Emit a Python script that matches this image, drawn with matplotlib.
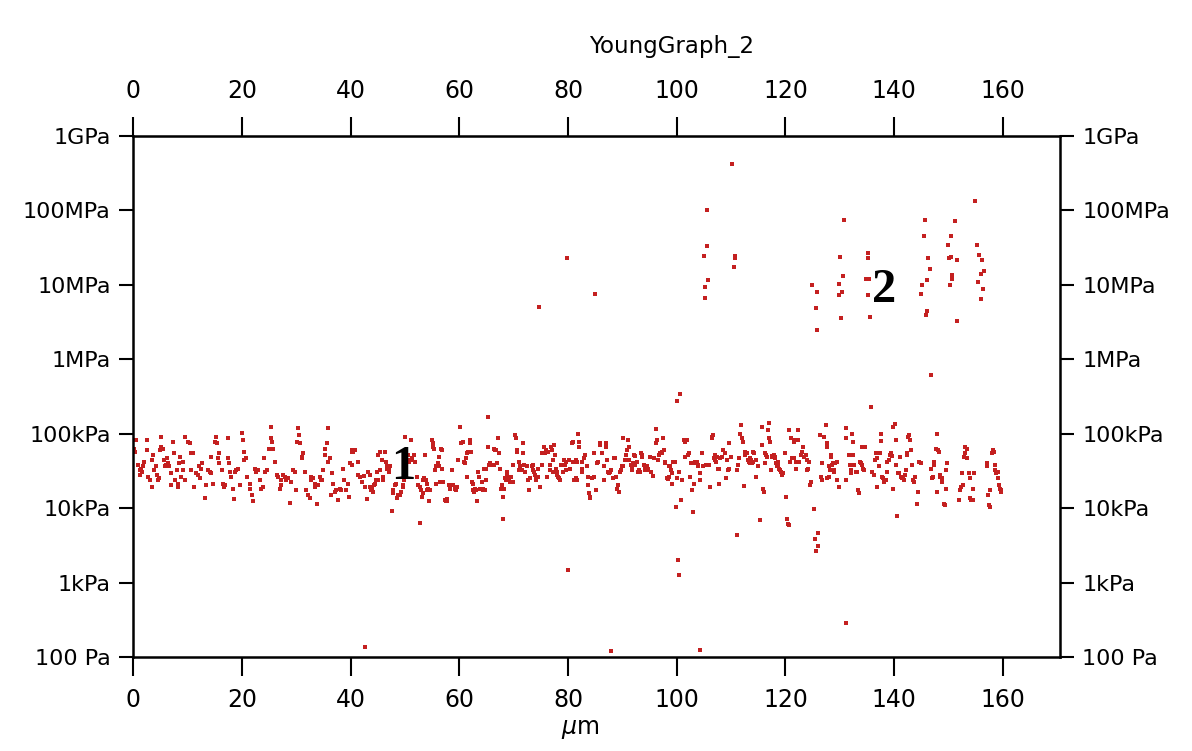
import numpy as np
import matplotlib
matplotlib.use("Agg")
import matplotlib.pyplot as plt

# Young's modulus map, x in um, values stored as log10(E / Pa)
band_0_40 = [
    (0.3, 4.91), (0.6, 4.91), (0.2, 4.80), (0.4, 4.76), (0.9, 4.58), (1.2, 4.51), (1.5, 4.53), (1.6, 4.49),
    (1.2, 4.44), (1.8, 4.56), (2.5, 4.91), (2.5, 4.78), (2.1, 4.62), (2.8, 4.42), (3.1, 4.38), (3.4, 4.28),
    (3.4, 4.65), (3.7, 4.71), (3.9, 4.51), (4.3, 4.56), (4.5, 4.44), (4.6, 4.38), (4.7, 4.40), (4.9, 4.78),
    (5.2, 4.96), (5.2, 4.82), (5.5, 4.80), (5.7, 4.65), (5.8, 4.56), (6.1, 4.58), (6.3, 4.67), (6.4, 4.60),
    (6.7, 4.56), (6.9, 4.31), (7.0, 4.47), (7.4, 4.89), (7.5, 4.74), (7.7, 4.38), (8.0, 4.51), (8.2, 4.33),
    (8.3, 4.29), (8.4, 4.60), (8.6, 4.69), (8.9, 4.42), (9.2, 4.62), (9.2, 4.51), (9.5, 4.38), (9.6, 4.96),
    (10.1, 4.89), (10.4, 4.87), (10.6, 4.74), (10.7, 4.51), (11.0, 4.74), (11.2, 4.28), (11.6, 4.47), (12.0, 4.44),
    (12.1, 4.56), (12.3, 4.40), (12.5, 4.53), (12.7, 4.60), (13.2, 4.13), (13.5, 4.31), (13.8, 4.51), (14.1, 4.49),
    (14.3, 4.69), (14.4, 4.47), (14.7, 4.33), (15.0, 4.89), (15.3, 4.96), (15.5, 4.87), (15.6, 4.67), (15.8, 4.60),
    (15.9, 4.74), (16.3, 4.51), (16.6, 4.33), (16.7, 4.29), (16.9, 4.31), (17.4, 4.94), (17.5, 4.67), (17.6, 4.60),
    (17.8, 4.49), (18.1, 4.42), (18.4, 4.26), (18.6, 4.12), (18.7, 4.49), (19.0, 4.51), (19.3, 4.53), (19.6, 4.31),
    (20.0, 5.01), (20.2, 4.91), (20.4, 4.65), (20.5, 4.76), (20.8, 4.67), (21.0, 4.42), (21.5, 4.33), (21.6, 4.26),
    (21.9, 4.18), (22.1, 4.09), (22.4, 4.53), (22.7, 4.49), (23.0, 4.51), (23.3, 4.38), (23.6, 4.26), (23.9, 4.29),
    (24.1, 4.67), (24.3, 4.49), (24.7, 4.51), (25.1, 4.80), (25.3, 5.09), (25.4, 4.94), (25.6, 4.89), (25.8, 4.80),
    (26.1, 4.62), (26.4, 4.44), (26.7, 4.42), (27.0, 4.26), (27.2, 4.31), (27.3, 4.38), (27.6, 4.44), (27.9, 4.42),
    (28.2, 4.38), (28.5, 4.40), (28.8, 4.07), (29.1, 4.35), (29.4, 4.51), (29.7, 4.49), (30.0, 4.24), (30.2, 4.89),
    (30.3, 5.07), (30.5, 4.98), (30.7, 4.87), (31.0, 4.69), (31.1, 4.67), (31.3, 4.74), (31.6, 4.49), (31.9, 4.24),
    (32.1, 4.18), (32.5, 4.13), (32.7, 4.38), (32.8, 4.42), (33.1, 4.40), (33.4, 4.33), (33.5, 4.29), (33.9, 4.05),
    (34.0, 4.31), (34.3, 4.42), (34.5, 4.38), (34.8, 4.38), (35.0, 4.51), (35.3, 4.71), (35.4, 4.80), (35.6, 4.87),
    (35.8, 5.07), (35.9, 4.62), (36.2, 4.67), (36.4, 4.18), (36.6, 4.47), (36.8, 4.33), (37.1, 4.22), (37.4, 4.24),
    (37.7, 4.11), (38.0, 4.26), (38.3, 4.24), (38.6, 4.53), (38.8, 4.38), (39.2, 4.24), (39.5, 4.33), (39.8, 4.15),
]

band_40_80 = [
    (40.2, 4.76), (40.2, 4.78), (40.5, 4.76), (40.8, 4.78), (39.9, 4.60), (40.2, 4.58), (41.4, 4.62), (41.4, 4.44),
    (41.7, 4.42), (42.4, 4.43), (42.7, 4.28), (42.1, 4.35), (43.0, 4.12), (43.3, 4.49), (43.5, 4.44), (43.6, 4.29),
    (43.7, 4.24), (43.9, 4.26), (44.2, 4.22), (44.3, 4.31), (44.5, 4.33), (44.7, 4.38), (44.8, 4.49), (45.1, 4.38),
    (45.1, 4.71), (45.4, 4.51), (45.5, 4.76), (45.7, 4.65), (45.9, 4.42), (46.0, 4.38), (46.3, 4.76), (46.5, 4.62),
    (46.7, 4.56), (46.8, 4.53), (47.0, 4.48), (47.1, 4.51), (47.3, 4.56), (47.6, 3.96), (47.8, 4.24), (47.9, 4.20),
    (48.2, 4.31), (48.4, 4.33), (48.6, 4.14), (48.8, 4.18), (49.1, 4.18), (49.2, 4.22), (49.6, 4.29), (49.7, 4.31),
    (49.8, 4.38), (50.0, 4.96), (50.2, 4.67), (50.5, 4.64), (50.6, 4.71), (50.8, 4.62), (51.1, 4.91), (51.2, 4.65),
    (51.4, 4.67), (51.6, 4.71), (51.9, 4.62), (52.2, 4.42), (52.5, 4.31), (52.7, 4.28), (52.8, 3.80), (52.9, 4.24),
    (53.1, 4.15), (53.3, 4.20), (53.4, 4.38), (53.5, 4.40), (53.7, 4.71), (53.9, 4.38), (54.0, 4.33), (54.1, 4.24),
    (54.3, 4.26), (54.5, 4.09), (54.6, 4.24), (54.9, 4.91), (55.1, 4.87), (55.2, 4.82), (55.4, 4.80), (55.5, 4.51),
    (55.7, 4.56), (55.8, 4.33), (56.0, 4.60), (56.2, 4.69), (56.3, 4.56), (56.5, 4.35), (56.6, 4.80), (56.8, 4.78),
    (56.9, 4.53), (57.1, 4.35), (57.4, 4.11), (57.6, 4.09), (57.7, 4.12), (57.8, 4.09), (58.2, 4.31), (58.3, 4.26),
    (58.6, 4.51), (58.9, 4.31), (59.2, 4.26), (59.4, 4.24), (59.5, 4.29), (59.8, 4.65), (60.1, 5.09), (60.4, 4.87),
    (60.6, 4.89), (60.8, 4.62), (61.1, 4.60), (61.2, 4.67), (61.4, 4.74), (61.5, 4.42), (61.7, 4.76), (61.9, 4.87),
    (62.0, 4.91), (62.1, 4.76), (62.3, 4.35), (62.5, 4.33), (62.6, 4.24), (62.7, 4.22), (62.9, 4.26), (63.1, 4.24),
    (63.2, 4.09), (63.5, 4.49), (63.7, 4.42), (63.8, 4.26), (64.1, 4.35), (64.3, 4.24), (64.4, 4.26), (64.5, 4.53),
    (64.7, 4.24), (64.9, 4.53), (65.0, 4.38), (65.2, 5.23), (65.3, 4.82), (65.5, 4.58), (65.7, 4.60), (66.0, 4.58),
    (66.3, 4.58), (66.4, 4.80), (66.6, 4.78), (66.8, 4.78), (66.9, 4.60), (67.2, 4.94), (67.4, 4.74), (67.5, 4.53),
    (67.6, 4.26), (67.8, 4.31), (68.0, 4.15), (68.1, 3.86), (68.2, 4.26), (68.4, 4.40), (68.6, 4.38), (68.7, 4.49),
    (68.8, 4.44), (69.0, 4.40), (69.2, 4.38), (69.3, 4.35), (69.6, 4.42), (69.8, 4.35), (69.9, 4.58), (70.2, 4.98),
    (70.4, 4.94), (70.6, 4.78), (70.7, 4.76), (70.9, 4.51), (71.0, 4.62), (71.2, 4.56), (71.5, 4.51), (71.7, 4.87),
    (71.8, 4.74), (71.9, 4.58), (72.1, 4.49), (72.4, 4.56), (72.7, 4.38), (72.9, 4.24), (73.0, 4.40), (73.3, 4.56),
    (73.5, 4.51), (73.6, 4.58), (73.8, 4.49), (73.9, 4.44), (74.1, 4.42), (74.2, 4.38), (74.4, 4.53), (74.5, 4.42),
    (74.9, 4.29), (75.2, 4.58), (75.3, 4.74), (75.5, 4.74), (75.6, 4.82), (75.8, 4.74), (75.9, 4.78), (76.1, 4.42),
    (76.4, 4.76), (76.6, 4.51), (76.7, 4.58), (76.8, 4.82), (77.0, 4.78), (77.2, 4.65), (77.3, 4.49), (77.4, 4.85),
    (77.6, 4.71), (77.8, 4.53), (77.9, 4.49), (78.0, 4.44), (78.2, 4.42), (78.4, 4.40), (78.5, 4.38), (78.8, 4.58),
    (79.1, 4.49), (79.3, 4.64), (79.4, 4.58), (79.6, 4.51), (79.7, 4.62),
]

band_80_120 = [
    (80.1, 4.65), (80.4, 4.53), (80.7, 4.87), (80.9, 4.89), (81.0, 4.62), (81.1, 4.38), (80.7, 4.87), (81.0, 4.89),
    (81.8, 5.00), (82.1, 4.89), (82.1, 4.82), (81.4, 4.65), (81.7, 4.62), (82.6, 4.62), (82.9, 4.67), (83.2, 4.71),
    (82.5, 4.53), (82.6, 4.49), (81.5, 4.40), (81.7, 4.38), (83.5, 4.56), (83.7, 4.42), (83.7, 4.31), (83.8, 4.20),
    (84.1, 4.15), (84.1, 4.13), (84.4, 4.40), (84.7, 4.42), (84.7, 4.74), (85.2, 4.24), (85.3, 4.60), (85.6, 4.62),
    (85.8, 4.87), (85.9, 4.85), (86.3, 4.74), (86.6, 4.56), (86.6, 4.38), (86.9, 4.87), (87.0, 4.82), (87.2, 4.65),
    (87.4, 4.49), (87.5, 4.47), (87.8, 4.49), (88.0, 4.51), (88.2, 4.40), (88.4, 4.68), (88.7, 4.68), (88.8, 4.42),
    (89.0, 4.26), (89.2, 4.31), (89.3, 4.22), (89.6, 4.49), (89.8, 4.51), (89.9, 4.56), (90.1, 4.94), (90.2, 4.56),
    (90.5, 4.65), (90.7, 4.71), (90.9, 4.78), (91.0, 4.91), (91.2, 4.82), (91.3, 4.65), (91.5, 4.58), (91.7, 4.56),
    (91.8, 4.51), (91.9, 4.60), (92.1, 4.71), (92.3, 4.70), (92.4, 4.58), (92.7, 4.62), (92.9, 4.49), (93.0, 4.51),
    (93.3, 4.49), (93.5, 4.74), (93.6, 4.71), (93.7, 4.69), (93.9, 4.58), (94.1, 4.53), (94.2, 4.51), (94.5, 4.56),
    (94.7, 4.53), (94.8, 4.51), (95.1, 4.69), (95.3, 4.49), (95.6, 4.43), (95.8, 4.67), (96.1, 5.06), (96.1, 4.87),
    (96.4, 4.91), (96.6, 4.65), (96.8, 4.71), (97.0, 4.74), (97.2, 4.76), (97.3, 4.74), (97.4, 4.94), (97.6, 4.78),
    (97.8, 4.60), (97.9, 4.62), (98.2, 4.40), (98.4, 4.39), (98.5, 4.42), (98.6, 4.56), (98.8, 4.56), (99.0, 4.51),
    (99.1, 4.33), (99.2, 4.47), (99.4, 4.62), (99.7, 4.62), (99.9, 4.01), (100.1, 4.40), (100.4, 4.49), (100.7, 4.11),
    (100.9, 4.38), (101.3, 4.91), (101.5, 4.89), (101.6, 4.69), (101.9, 4.91), (102.1, 4.71), (102.2, 4.74), (102.5, 4.42),
    (102.7, 4.60), (102.8, 4.25), (103.0, 3.95), (103.1, 4.33), (103.3, 4.60), (103.4, 4.62), (103.5, 4.61), (103.7, 4.62),
    (103.9, 4.58), (104.0, 4.56), (104.2, 4.38), (104.3, 4.47), (104.6, 4.74), (104.9, 4.56), (105.3, 4.58), (106.0, 4.58),
    (106.2, 4.29), (106.4, 4.96), (106.5, 4.94), (106.6, 4.98), (106.8, 4.67), (107.0, 4.65), (107.1, 4.71), (107.2, 4.62),
    (107.4, 4.69), (107.6, 4.53), (107.7, 4.53), (107.8, 4.33), (108.0, 4.67), (108.3, 4.69), (108.6, 4.78), (108.9, 4.74),
    (109.1, 4.40), (109.2, 4.65), (109.4, 4.51), (109.6, 4.53), (109.7, 4.87), (109.9, 4.69), (111.1, 4.51), (111.3, 4.58),
    (111.4, 4.67), (111.7, 5.00), (111.9, 5.12), (112.0, 4.94), (112.1, 4.89), (112.3, 4.30), (112.5, 4.76), (112.6, 4.71),
    (112.9, 4.74), (113.1, 4.65), (113.2, 4.62), (113.4, 4.60), (113.5, 4.67), (113.7, 4.65), (113.8, 4.60), (114.0, 4.76),
    (114.1, 4.62), (114.3, 4.74), (114.5, 4.65), (114.6, 4.42), (115.0, 4.56), (115.6, 5.09), (115.7, 4.85), (115.8, 4.26),
    (116.0, 4.22), (116.2, 4.60), (116.3, 4.74), (116.4, 4.71), (116.6, 4.69), (116.8, 5.05), (116.9, 5.15), (117.0, 4.94),
    (117.2, 4.89), (117.4, 4.51), (117.5, 4.69), (117.6, 4.70), (117.8, 4.71), (118.0, 4.69), (118.1, 4.67), (118.3, 4.60),
    (118.4, 4.56), (118.6, 4.62), (118.7, 4.58), (118.9, 4.53), (119.0, 4.51), (119.2, 4.49), (119.4, 4.44), (119.5, 4.47),
    (119.9, 4.74), (120.1, 4.15), (120.7, 5.05), (120.9, 4.62), (121.1, 4.94), (121.2, 4.67), (121.5, 4.89), (121.7, 4.91),
    (121.9, 4.53),
]

band_120_160 = [
    (122.3, 5.05), (121.9, 4.92), (122.3, 4.91), (121.6, 4.67), (121.9, 4.62), (122.5, 4.62), (122.8, 4.71), (123.1, 4.76),
    (123.3, 4.82), (123.4, 4.69), (123.7, 4.71), (123.9, 4.65), (124.0, 4.51), (124.1, 4.53), (124.3, 4.62), (124.5, 4.31),
    (124.7, 4.35), (126.3, 4.98), (126.8, 4.60), (127.1, 4.96), (127.4, 5.12), (127.6, 4.87), (127.7, 4.82), (128.0, 4.56),
    (128.2, 4.51), (128.3, 4.71), (128.4, 4.69), (128.6, 4.58), (128.8, 4.60), (128.9, 4.51), (129.0, 4.49), (129.2, 4.60),
    (129.4, 4.38), (129.5, 4.62), (129.8, 4.29), (126.6, 4.42), (126.8, 4.38), (127.7, 4.40), (128.0, 4.42), (131.1, 5.07),
    (131.2, 4.94), (131.2, 4.38), (131.7, 4.71), (131.9, 4.58), (132.0, 4.51), (132.1, 4.47), (132.3, 5.00), (132.5, 4.89),
    (132.5, 4.71), (132.6, 4.58), (132.9, 4.49), (133.2, 4.49), (133.3, 4.24), (133.5, 4.20), (133.7, 4.62), (133.8, 4.60),
    (134.1, 4.58), (134.3, 4.53), (134.4, 4.51), (134.1, 4.82), (134.7, 4.82), (136.0, 4.49), (136.2, 4.44), (136.4, 4.65),
    (136.6, 4.74), (136.8, 4.67), (136.9, 4.29), (137.2, 4.56), (137.4, 4.74), (137.5, 5.00), (137.6, 4.90), (137.8, 4.42),
    (138.0, 4.40), (138.1, 4.35), (138.2, 4.38), (138.4, 4.38), (138.6, 4.49), (138.7, 4.62), (139.0, 4.65), (139.2, 4.71),
    (139.5, 4.74), (139.6, 4.70), (139.8, 4.26), (139.8, 5.09), (140.1, 5.13), (140.3, 4.91), (140.4, 4.58), (140.7, 4.47),
    (140.9, 4.47), (141.1, 4.69), (141.3, 4.42), (141.5, 4.40), (141.7, 4.42), (141.8, 4.38), (141.9, 4.44), (142.1, 4.51),
    (142.3, 4.71), (142.4, 4.74), (142.5, 4.96), (142.7, 4.98), (142.9, 4.92), (143.0, 4.78), (143.3, 4.58), (143.5, 4.38),
    (143.7, 4.35), (143.9, 4.42), (144.1, 4.06), (144.4, 4.22), (144.5, 4.62), (144.9, 4.60), (146.8, 4.53), (147.0, 4.40),
    (147.2, 4.42), (147.3, 4.62), (147.4, 4.58), (147.6, 4.80), (147.8, 5.00), (148.0, 4.78), (148.2, 4.76), (148.4, 4.44),
    (148.5, 4.42), (148.7, 4.40), (148.8, 4.35), (149.1, 4.06), (149.3, 4.04), (149.5, 4.26), (149.6, 4.51), (149.8, 4.60),
    (147.9, 4.22), (151.9, 4.11), (152.1, 4.25), (152.2, 4.29), (152.5, 4.47), (152.7, 4.31), (152.8, 4.69), (153.0, 4.74),
    (153.1, 4.82), (153.3, 4.80), (153.4, 4.68), (153.7, 4.47), (153.9, 4.40), (154.0, 4.13), (154.2, 4.11), (154.4, 4.11),
    (154.7, 4.47), (154.5, 4.26), (157.0, 4.60), (157.1, 4.56), (157.2, 4.18), (157.4, 4.04), (157.6, 4.02), (157.7, 4.24),
    (158.0, 4.74), (158.2, 4.78), (158.3, 4.76), (158.5, 4.58), (158.6, 4.51), (158.8, 4.47), (159.0, 4.40), (159.1, 4.49),
    (159.3, 4.31), (159.4, 4.26), (159.6, 4.24), (159.7, 4.21),
]

# stiff points (region 2) and scattered points above the band
stiff_points = [
    (74.7, 6.70), (79.8, 7.36), (84.9, 6.88),
    (105.6, 8.01), (105.5, 7.52), (105.0, 7.39), (105.8, 7.06), (105.2, 6.97), (105.2, 6.83),
    (110.2, 8.62), (110.7, 7.39), (110.8, 7.36), (110.5, 7.24),
    (124.9, 7.00), (125.8, 6.90), (125.6, 6.69), (125.8, 6.39),
    (130.8, 7.87), (130.1, 7.37), (130.5, 7.12), (129.9, 7.01), (130.4, 6.91), (129.9, 6.87), (130.2, 6.55),
    (135.1, 7.43), (135.2, 7.36), (134.9, 7.08), (135.3, 7.08), (135.2, 6.87), (135.6, 6.57),
    (145.6, 7.87), (145.4, 7.65), (146.3, 7.36), (146.5, 7.21), (146.1, 7.07), (145.2, 7.00), (144.9, 6.88),
    (146.1, 6.65), (145.8, 6.60),
    (151.1, 7.86), (150.4, 7.65), (149.9, 7.53), (150.1, 7.36), (150.5, 7.37), (151.5, 7.33), (150.6, 7.13),
    (150.7, 7.08), (150.2, 7.00), (151.6, 6.51),
    (154.9, 8.12), (155.3, 7.54), (155.6, 7.40), (156.2, 7.33), (156.5, 7.18), (156.0, 7.14), (155.4, 7.04),
    (156.3, 6.94), (155.9, 6.81),
    (100.6, 5.54), (100.0, 5.44), (146.8, 5.79), (135.8, 5.36),
]

# soft outliers below the band
soft_points = [
    (80.0, 3.17), (100.2, 3.30), (100.4, 3.10), (111.1, 3.64), (115.4, 3.84),
    (120.3, 3.86), (120.5, 3.79), (120.6, 3.77),
    (125.2, 3.99), (126.0, 3.66), (125.5, 3.59), (125.9, 3.49), (125.7, 3.43), (140.5, 3.89),
    (42.6, 2.14), (88.0, 2.08), (104.2, 2.09), (131.2, 2.46),
]

ytick_vals = [1e2, 1e3, 1e4, 1e5, 1e6, 1e7, 1e8, 1e9]
ytick_labels = ["100 Pa", "1kPa", "10kPa", "100kPa", "1MPa", "10MPa", "100MPa", "1GPa"]
xtick_vals = [0, 20, 40, 60, 80, 100, 120, 140, 160]

plt.rcParams['font.family'] = 'DejaVu Sans'

fig = plt.figure(figsize=(11.92, 7.51), dpi=100)
ax = fig.add_axes([0.1116, 0.1252, 0.7777, 0.6937])

pts = band_0_40 + band_40_80 + band_80_120 + band_120_160 + stiff_points + soft_points
xs = np.array([p[0] for p in pts])
logE = np.array([p[1] for p in pts])
ax.scatter(xs, 10 ** logE, s=5, marker='s', color='#c42020', linewidths=0)

ax.set_yscale('log')
ax.set_xlim(0, 170.5)
ax.set_ylim(1e2, 1e9)
ax.set_yticks(ytick_vals)
ax.set_yticklabels(ytick_labels)
ax.minorticks_off()
ax.set_xticks(xtick_vals)

for s in ax.spines.values():
    s.set_linewidth(1.8)

ax.tick_params(axis='both', direction='out', width=1.5, labelsize=16)
ax.tick_params(axis='x', length=14, pad=8, labelsize=17)
ax.tick_params(axis='y', length=10, pad=6, right=True, labelright=True)

top = ax.secondary_xaxis('top')
top.set_xticks(xtick_vals)
top.tick_params(direction='out', width=1.5, length=14, pad=10, labelsize=17)

ax.text(49.7, 10 ** 4.55, "1", fontsize=35, fontweight='bold', family='Liberation Serif',
        ha='center', va='center')
ax.text(138.1, 10 ** 6.93, "2", fontsize=35, fontweight='bold', family='Liberation Serif',
        ha='center', va='center')

fig.text(672 / 1192, 1 - 47 / 751, "YoungGraph_2", fontsize=16.5, ha='center', va='center')
fig.text(580 / 1192, 1 - 729 / 751, r"$\mu$m", fontsize=17, ha='center', va='center')

fig.savefig("out.png", dpi=100)
